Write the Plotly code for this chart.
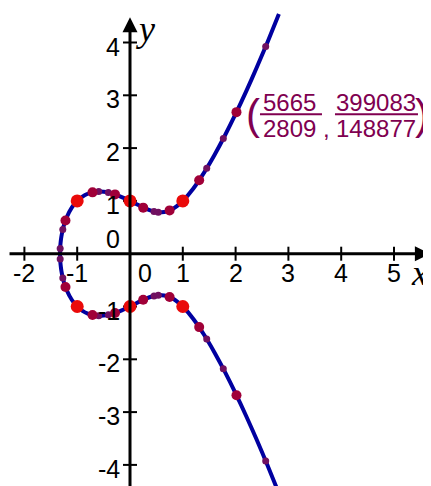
import plotly.graph_objects as go

# curve y^2 = x^3 - x + 1
curve_x = [2.82, 2.6, 2.4, 2.2, 2.0, 1.8, 1.6, 1.4, 1.2, 1.0, 0.9, 0.8, 0.7, 0.6, 0.5, 0.4, 0.3, 0.2, 0.1, 0.0,
           -0.1, -0.2, -0.3, -0.4, -0.5, -0.6, -0.7, -0.8, -0.9, -1.0, -1.1, -1.2, -1.25, -1.28, -1.3, -1.31, -1.32,
           -1.3247,
           -1.32, -1.31, -1.3, -1.28, -1.25, -1.2, -1.1, -1.0, -0.9, -0.8, -0.7, -0.6, -0.5, -0.4, -0.3, -0.2, -0.1,
           0.0, 0.1, 0.2, 0.3, 0.4, 0.5, 0.6, 0.7, 0.8, 0.9, 1.0, 1.2, 1.4, 1.6, 1.8, 2.0, 2.2, 2.4, 2.6, 2.82]
curve_y = [4.539, 3.997, 3.525, 3.074, 2.646, 2.243, 1.870, 1.531, 1.236, 1.0, 0.911, 0.844, 0.802, 0.785, 0.791,
           0.815, 0.853, 0.899, 0.949, 1.0, 1.048, 1.092, 1.128, 1.156, 1.173, 1.176, 1.165, 1.135, 1.082, 1.0,
           0.877, 0.687, 0.545, 0.428, 0.321, 0.249, 0.142,
           0.0,
           -0.142, -0.249, -0.321, -0.428, -0.545, -0.687, -0.877, -1.0, -1.082, -1.135, -1.165, -1.176, -1.173,
           -1.156, -1.128, -1.092, -1.048, -1.0, -0.949, -0.899, -0.853, -0.815, -0.791, -0.785, -0.802, -0.844,
           -0.911, -1.0, -1.236, -1.531, -1.870, -2.243, -2.646, -3.074, -3.525, -3.997, -4.539]

# integer points (large red)
big_x = [-1, 0, 1, -1, 0, 1]
big_y = [1, 1, 1, -1, -1, -1]

# medium points
mid_x = [-1.222, -0.71, -0.284, 0.25, 0.75, 1.31, 2.0167,
         -1.222, -0.71, -0.284, 0.25, 0.75, 1.31, 2.0167]
mid_y = [0.63, 1.162, 1.123, 0.872, 0.82, 1.39, 2.6806,
         -0.63, -1.162, -1.123, -0.872, -0.82, -1.39, -2.6806]

# small points
small_x = [-1.3224, -1.273, -0.593, -0.41, 0.455, 0.536, 1.453, 1.767, 2.57,
           -1.3224, -1.273, -0.593, -0.41, 0.455, 0.536, 1.453, 1.767, 2.57]
small_y = [0.10, 0.458, 1.177, 1.158, 0.80, 0.786, 1.617, 2.18, 3.925,
           -0.10, -0.458, -1.177, -1.158, -0.80, -0.786, -1.617, -2.18, -3.925]

x_ticks = [-2, -1, 0, 1, 2, 3, 4, 5]
x_tick_text = ['-2', '-1', '0', '1', '2', '3', '4', '5']
y_ticks = [-4, -3, -2, -1, 0, 1, 2, 3, 4]
y_tick_text = ['-4', '-3', '-2', '-1', '0', '1', '2', '3', '4']

label_num = ['5665', '399083']
label_den = ['2809', '148877']
label_x = 5665 / 2809
label_y = 399083 / 148877

font_sans = 'Liberation Sans, Arial, sans-serif'
font_serif = 'Liberation Serif, Times New Roman, serif'
label_color = '#800050'
unit = 52.8  # pixels per unit, same on both axes

fig = go.Figure()

# tick marks
fig.add_trace(go.Scatter(x=[t for t in x_ticks if t != 0], y=[0] * 7, mode='markers',
                         marker=dict(symbol='line-ns', size=10, line=dict(width=2, color='black')),
                         hoverinfo='skip'))
fig.add_trace(go.Scatter(x=[0] * 8, y=[t for t in y_ticks if t != 0], mode='markers',
                         marker=dict(symbol='line-ew', size=10, line=dict(width=2, color='black')),
                         hoverinfo='skip'))

# the curve
fig.add_trace(go.Scatter(x=curve_x, y=curve_y, mode='lines',
                         line=dict(color='#0000a0', width=4, shape='spline', smoothing=0.8),
                         hoverinfo='skip'))

# points
fig.add_trace(go.Scatter(x=small_x, y=small_y, mode='markers',
                         marker=dict(size=7, color='#701060', line=dict(width=0))))
fig.add_trace(go.Scatter(x=mid_x, y=mid_y, mode='markers',
                         marker=dict(size=10, color='#a00038', line=dict(width=0))))
fig.add_trace(go.Scatter(x=big_x, y=big_y, mode='markers',
                         marker=dict(size=13, color='#ea0a0a', line=dict(width=0))))

ann = []
# axes with arrows
ann.append(dict(x=5.68, y=0, ax=-2.31, ay=0, xref='x', yref='y', axref='x', ayref='y', text='',
                showarrow=True, arrowhead=2, arrowsize=1, arrowwidth=3, arrowcolor='black'))
ann.append(dict(x=0, y=4.48, ax=0, ay=-4.5, xref='x', yref='y', axref='x', ayref='y', text='',
                showarrow=True, arrowhead=2, arrowsize=1, arrowwidth=3, arrowcolor='black'))

# tick labels
for v, t in zip(x_ticks, x_tick_text):
    ann.append(dict(x=v, y=0, text=t, showarrow=False, xanchor='center', yanchor='middle',
                    xshift=15 if v == 0 else 0, yshift=-19, borderpad=0,
                    font=dict(family=font_sans, size=25, color='black')))
for v, t in zip(y_ticks, y_tick_text):
    ann.append(dict(x=0, y=v, text=t, showarrow=False, xanchor='right', yanchor='middle',
                    xshift=-9, yshift=15 if v == 0 else -4, borderpad=0,
                    font=dict(family=font_sans, size=25, color='black')))

# axis names
ann.append(dict(x=0.3, y=4.25, text='<i>y</i>', showarrow=False, xanchor='center', yanchor='middle',
                borderpad=0, font=dict(family=font_serif, size=36, color='black')))
ann.append(dict(x=5.48, y=-0.37, text='<i>x</i>', showarrow=False, xanchor='center', yanchor='middle',
                borderpad=0, font=dict(family=font_serif, size=36, color='black')))

# coordinate label of the point
lab_font = dict(family=font_sans, size=24, color=label_color)
paren_font = dict(family=font_sans, size=42, color=label_color, weight=300)
ann.append(dict(x=label_x, y=label_y, text='(', showarrow=False, xanchor='center', yanchor='middle',
                xshift=16.5, yshift=-2, borderpad=0, font=paren_font))
ann.append(dict(x=label_x, y=label_y, text=')', showarrow=False, xanchor='center', yanchor='middle',
                xshift=186, yshift=-2, borderpad=0, font=paren_font))
for i, xs in enumerate([53.5, 140]):
    ann.append(dict(x=label_x, y=label_y, text=label_num[i], showarrow=False, xanchor='center',
                    yanchor='middle', xshift=xs, yshift=9.5, borderpad=0, font=lab_font))
    ann.append(dict(x=label_x, y=label_y, text=label_den[i], showarrow=False, xanchor='center',
                    yanchor='middle', xshift=xs, yshift=-16, borderpad=0, font=lab_font))
ann.append(dict(x=label_x, y=label_y, text=',', showarrow=False, xanchor='center', yanchor='middle',
                xshift=90.5, yshift=-16, borderpad=0, font=lab_font))

shapes = []
for x0, x1 in [(23.5, 85.5), (98.5, 181.5)]:
    shapes.append(dict(type='line', xref='x', yref='y', xsizemode='pixel', ysizemode='pixel',
                       xanchor=label_x, yanchor=label_y, x0=x0, x1=x1, y0=-2.1, y1=-2.1,
                       line=dict(color=label_color, width=2)))

# the page body keeps an 8px margin, so the figure is 8px smaller and starts at (8, 8)
fig.update_layout(
    width=423, height=478,
    margin=dict(l=0, r=0, t=0, b=0),
    paper_bgcolor='white', plot_bgcolor='white',
    showlegend=False,
    xaxis=dict(range=[-122 / unit, 301 / unit], visible=False, fixedrange=True),
    yaxis=dict(range=[-232.3 / unit, 245.7 / unit], visible=False, fixedrange=True),
    annotations=ann,
    shapes=shapes,
)

fig.write_html('out.html')
